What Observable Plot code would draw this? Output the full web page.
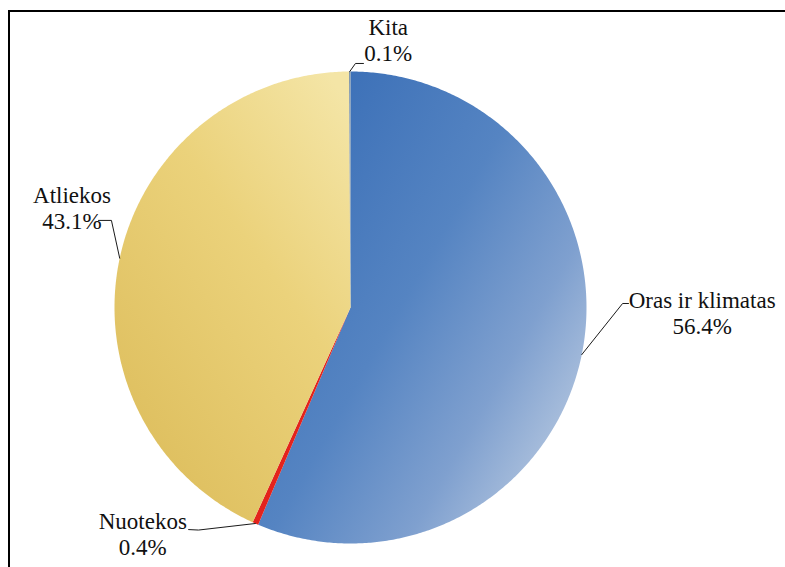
<!DOCTYPE html>
<html><head><meta charset="utf-8">
<script src="https://cdn.jsdelivr.net/npm/d3@7"></script>
<script src="https://cdn.jsdelivr.net/npm/@observablehq/plot@0.6"></script>
<style>
html,body{margin:0;padding:0;background:#fff;overflow:hidden;}
#wrap{position:relative;width:785px;height:567px;}
#frame{position:absolute;left:8px;top:10px;width:820px;height:620px;border:2px solid #000;pointer-events:none;}
svg{display:block;}
svg text{font-family:"Liberation Serif","Times New Roman",serif !important;}
</style></head><body><div id="wrap"><div id="frame"></div></div>
<script>
// ---- data ----
const categories = ["Oras ir klimatas", "Nuotekos", "Atliekos", "Kita"];
const shares = [56.4, 0.4, 43.1, 0.1];
const valueLabels = ["56.4%", "0.4%", "43.1%", "0.1%"];

// ---- styling / layout (separate from data) ----
const sliceFills = ["url(#gBlue)", "#e3231c", "url(#gYellow)", "#7e94a8"];
// label block centre x and first-line baseline y, in pie-radius units (y up)
const labelX = [1.49, -0.88, -1.18, 0.16];
const labelY = [0.0, -0.94, 0.444, 1.153];
// leader elbow and end, in pie-radius units
const elbowX = [1.153, -0.644, -1.013, 0.021];
const elbowY = [0.017, -0.943, 0.369, 1.034];
const endX = [1.178, -0.686, -1.068, 0.055];
const endY = [0.017, -0.941, 0.369, 1.034];
const lineGapUnits = 26 / 236;

const total = d3.sum(shares);
const slicePts = [];
const leaderPts = [];
const labelRows = [];
let acc = 0;
categories.forEach((cat, i) => {
  const a0 = acc / total * 2 * Math.PI;
  acc += shares[i];
  const a1 = acc / total * 2 * Math.PI;
  const n = Math.max(2, Math.ceil((a1 - a0) / (Math.PI / 360)));
  slicePts.push({cat, x: 0, y: 0});
  for (let k = 0; k <= n; k++) {
    const a = a0 + (a1 - a0) * k / n;
    slicePts.push({cat, x: Math.sin(a), y: Math.cos(a)});
  }
  slicePts.push({cat, x: 0, y: 0});
  const am = (a0 + a1) / 2;
  leaderPts.push({cat, x: Math.sin(am), y: Math.cos(am)});
  leaderPts.push({cat, x: elbowX[i], y: elbowY[i]});
  leaderPts.push({cat, x: endX[i], y: endY[i]});
  labelRows.push({x: labelX[i], y: labelY[i], text: cat});
  labelRows.push({x: labelX[i], y: labelY[i] - lineGapUnits, text: valueLabels[i]});
});

const chart = Plot.plot({
  width: 785,
  height: 567,
  marginLeft: 114,
  marginRight: 199,
  marginTop: 71,
  marginBottom: 24,
  x: {domain: [-1, 1], axis: null},
  y: {domain: [-1, 1], axis: null},
  color: {domain: categories, range: sliceFills},
  style: {background: "#fff"},
  marks: [
    Plot.line(slicePts, {x: "x", y: "y", z: "cat", fill: "cat", stroke: "none", curve: "linear"}),
    Plot.line(leaderPts, {x: "x", y: "y", z: "cat", stroke: "#1a1a1a", strokeWidth: 1, curve: "linear"}),
    Plot.text(labelRows, {x: "x", y: "y", text: "text", fontSize: 23, fill: "#111", textAnchor: "middle", lineAnchor: "bottom"})
  ]
});

d3.select(chart).selectAll("text").style("font-family", "'Liberation Serif', 'Times New Roman', serif");

const defs = d3.select(chart).insert("defs", ":first-child");
const gb = defs.append("linearGradient").attr("id", "gBlue")
  .attr("x1", 0.15).attr("y1", 0.15).attr("x2", 1).attr("y2", 0.85);
[[0, "#3d71b8"], [0.4, "#5584c2"], [0.7, "#7fa0cf"], [1, "#c0cfe3"]].forEach(([o, c]) =>
  gb.append("stop").attr("offset", o).attr("stop-color", c));
const gy = defs.append("linearGradient").attr("id", "gYellow")
  .attr("x1", 0.9).attr("y1", 0).attr("x2", 0.15).attr("y2", 1);
[[0, "#f4e5a6"], [0.4, "#ebd27b"], [1, "#dcbc5a"]].forEach(([o, c]) =>
  gy.append("stop").attr("offset", o).attr("stop-color", c));

document.getElementById("wrap").insertBefore(chart, document.getElementById("frame"));
</script></body></html>
